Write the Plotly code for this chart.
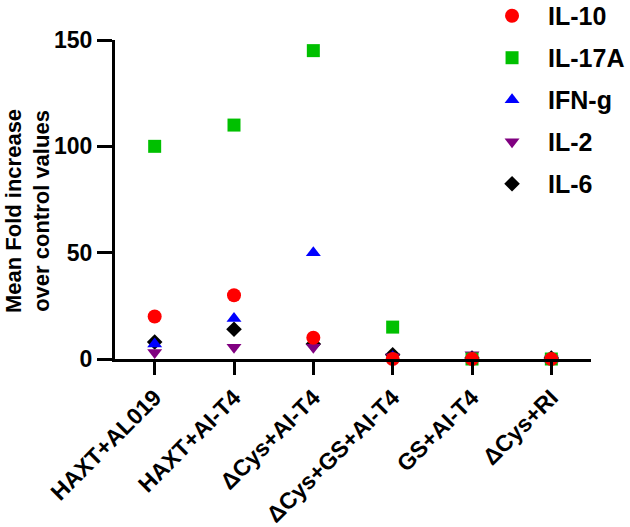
import plotly.graph_objects as go

categories = ["HAXT+AL019", "HAXT+AI-T4", "ΔCys+AI-T4", "ΔCys+GS+AI-T4", "GS+AI-T4", "ΔCys+RI"]
il10 = [20, 30, 10, 0, 0, 0]
il17a = [100, 110, 145, 15, 0, 0]
ifng = [7, 19, 50, 1, 0.5, 0]
il2 = [3, 5.5, 5.5, 1, 2, 0]
il6 = [8, 14, 7, 2, 0.5, 0.5]

# (name, values, symbol, colour, size, legend rank); drawn IL-6 first so IL-10 is on top
series = [
    ("IL-6", il6, "diamond", "#000000", 12, 5),
    ("IL-2", il2, "triangle-down", "#800080", 13, 4),
    ("IFN-g", ifng, "triangle-up", "#0000FF", 13, 3),
    ("IL-17A", il17a, "square", "#00C000", 13, 2),
    ("IL-10", il10, "circle", "#FF0000", 14, 1),
]

fig = go.Figure()
for name, vals, sym, col, sz, rank in series:
    fig.add_trace(go.Scatter(
        x=categories, y=vals, mode="markers", name=name, legendgroup=name,
        legendrank=rank,
        marker=dict(symbol=sym, color=col, size=sz, line=dict(width=0)),
        cliponaxis=False,
    ))

font_family = "Arial, Liberation Sans, sans-serif"
fig.update_layout(
    width=630, height=527,
    margin=dict(l=115, r=39, t=40, b=168, autoexpand=False),
    plot_bgcolor="white", paper_bgcolor="white",
    font=dict(family=font_family, color="black"),
    showlegend=True,
    legend=dict(x=0.7585, y=0.812, xanchor="left", yanchor="middle",
                traceorder="grouped", tracegroupgap=6.5, itemwidth=62,
                font=dict(size=25, family=font_family, weight="bold"),
                bgcolor="rgba(0,0,0,0)"),
    xaxis=dict(
        range=[-0.5, 5.5], showline=True, linecolor="black", linewidth=3,
        ticks="outside", ticklen=13, tickwidth=3, tickcolor="black",
        tickangle=-45, showgrid=False, zeroline=False, automargin=False,
        tickfont=dict(size=23, family=font_family, weight="bold"),
    ),
    yaxis=dict(
        range=[0, 150], showline=True, linecolor="black", linewidth=3,
        ticks="outside", ticklen=15, tickwidth=3, tickcolor="black",
        tickvals=[0, 50, 100, 150], showgrid=False, zeroline=False, automargin=False,
        tickfont=dict(size=23, family=font_family, weight="bold"),
    ),
    annotations=[dict(
        text="Mean Fold increase<br>over control values", xref="paper", yref="paper",
        x=-0.184, y=0.465, xanchor="center", yanchor="middle", textangle=-90,
        showarrow=False, font=dict(size=22, family=font_family, weight="bold"),
    )],
)

fig.write_html("out.html")
